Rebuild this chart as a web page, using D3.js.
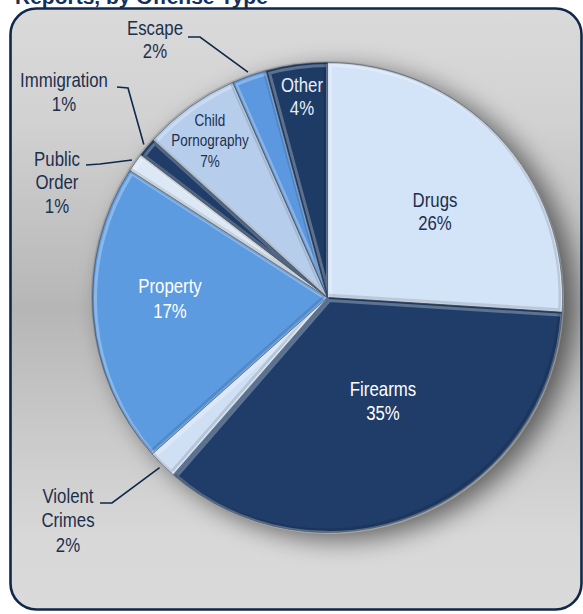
<!DOCTYPE html>
<html><head><meta charset="utf-8">
<script src="https://cdn.jsdelivr.net/npm/d3@7"></script>
<style>html,body{margin:0;padding:0;background:#fff;overflow:hidden}</style>
</head><body><svg id="chart" width="583" height="614"></svg>
<script>
// ---- data ----
const categories = ["Drugs","Firearms","Violent Crimes","Property","Public Order","Immigration","Child Pornography","Escape","Other"];
// slice sizes as drawn in the reference (degrees of arc / 3.6)
const shares = [26.0, 35.4, 2.0, 20.7, 1.3, 1.3, 6.7, 2.4, 4.2];
// percentages printed in the reference labels
const percentLabels = ["26%","35%","2%","17%","1%","1%","7%","2%","4%"];
const nameLines = [["Drugs"],["Firearms"],["Violent","Crimes"],["Property"],["Public","Order"],["Immigration"],["Child","Pornography"],["Escape"],["Other"]];
const sliceColors = ["#d4e4f8","#1f3d68","#cfe0f4","#5d9be1","#dce8f5","#1f3d68","#b6ceec","#5b98df","#1e3b66"];
const titleText = "Reports, by Offense Type";

// ---- layout (label placement, styles) ----
const W = 583, H = 614, cx = 327.5, cy = 297.5, R = 235;
const FONT = "'Liberation Sans',Arial,sans-serif";
const SX = 0.82; // narrow-face emulation
const labelLayout = [
  {x:435, y:207, size:20.5, lh:23.5, fill:"#1b2f4d"},
  {x:383, y:396, size:20.5, lh:24.5, fill:"#ffffff"},
  {x:68,  y:503, size:20.5, lh:24.5, fill:"#1b2f4d", leader:[[100,503],[112,503]]},
  {x:170, y:293, size:20.5, lh:25, fill:"#ffffff"},
  {x:57,  y:166, size:20.5, lh:23.5, fill:"#1b2f4d", leader:[[86,165],[100,164]]},
  {x:64,  y:87,  size:20.5, lh:24, fill:"#1b2f4d", leader:[[117,87],[128,88]]},
  {x:210, y:126, size:16.5, lh:20.5, fill:"#1b2f4d"},
  {x:155, y:35,  size:20.5, lh:23, fill:"#1b2f4d", leader:[[188,37],[200,37]]},
  {x:302, y:92,  size:20.5, lh:23, fill:"#e8eef6"}
];

const data = categories.map((c,i)=>({name:c, value:shares[i], pct:percentLabels[i], lines:nameLines[i], color:sliceColors[i], lay:labelLayout[i]}));

const svg = d3.select("#chart");
const defs = svg.append("defs");

// background gradient
const bg = defs.append("linearGradient").attr("id","bg").attr("x1",0).attr("y1",0).attr("x2",0).attr("y2",1);
[[0,"#dadada"],[0.18,"#d2d2d2"],[0.5,"#b6b6b6"],[0.72,"#cbcbcb"],[0.88,"#d8d8d8"],[1,"#dadada"]]
  .forEach(([o,c])=>bg.append("stop").attr("offset",o).attr("stop-color",c));

const sh = defs.append("filter").attr("id","shadow").attr("x","-20%").attr("y","-20%").attr("width","140%").attr("height","140%");
sh.append("feGaussianBlur").attr("in","SourceAlpha").attr("stdDeviation",13);
sh.append("feOffset").attr("dx",12).attr("dy",7).attr("result","b");
sh.append("feComponentTransfer").append("feFuncA").attr("type","linear").attr("slope",0.55);

// title (partially cropped at top, as in the reference)
svg.append("text").attr("x",15).attr("y",4).attr("font-family","'Liberation Sans',Arial,sans-serif")
  .attr("font-weight","bold").attr("font-size",21).attr("fill","#14305a").text(titleText);

// panel
svg.append("rect").attr("x",10.5).attr("y",8.5).attr("width",571).attr("height",601).attr("rx",26)
  .attr("fill","url(#bg)").attr("stroke","#10284a").attr("stroke-width",2.6);

const pie = d3.pie().value(d=>d.value).sort(null).startAngle(0).endAngle(2*Math.PI);
const arcs = pie(data);
const arc = d3.arc().innerRadius(0).outerRadius(R);

const g = svg.append("g").attr("transform",`translate(${cx},${cy})`);

// drop shadow
g.append("circle").attr("r",R).attr("fill","#000").attr("filter","url(#shadow)");

arcs.forEach((a,i)=>{
  defs.append("clipPath").attr("id","clip"+i).append("path").attr("d",arc(a));
});

const slices = g.selectAll("g.slice").data(arcs).join("g").attr("class","slice");
slices.append("path").attr("d",arc).attr("fill",d=>d.data.color);
// bevel: light inner rim (top-left) and soft dark inner rim (bottom-right)
slices.append("path").attr("d",arc).attr("clip-path",(d,i)=>`url(#clip${i})`)
  .attr("fill","none").attr("stroke","#ffffff").attr("stroke-opacity",0.28).attr("stroke-width",6)
  .attr("transform","translate(1.5,1.5)");
slices.append("path").attr("d",arc).attr("clip-path",(d,i)=>`url(#clip${i})`)
  .attr("fill","none").attr("stroke","#000000").attr("stroke-opacity",0.12).attr("stroke-width",5)
  .attr("transform","translate(-1.5,-1.5)");
slices.append("path").attr("d",arc).attr("fill","none").attr("stroke","#3a4655").attr("stroke-opacity",0.65).attr("stroke-width",0.8);

// leader lines
const leaderG = svg.append("g");
arcs.forEach(a=>{
  const L = a.data.lay.leader; if(!L) return;
  const mid = (a.startAngle+a.endAngle)/2;
  const end = [cx + (R+4)*Math.sin(mid), cy - (R+4)*Math.cos(mid)];
  leaderG.append("path").attr("d", d3.line()([...L, end]))
    .attr("fill","none").attr("stroke","#10284a").attr("stroke-width",1.6);
});

// labels (horizontally condensed to emulate a narrow face)
const labG = svg.append("g").attr("font-family",FONT).attr("text-anchor","middle")
  .attr("transform",`scale(${SX},1)`);
arcs.forEach(a=>{
  const d = a.data, l = d.lay;
  const t = labG.append("text").attr("font-size",l.size).attr("fill",l.fill);
  [...d.lines, d.pct].forEach((s,k)=>{
    t.append("tspan").attr("x",l.x/SX).attr("y",l.y + k*l.lh).text(s);
  });
});
</script></body></html>
